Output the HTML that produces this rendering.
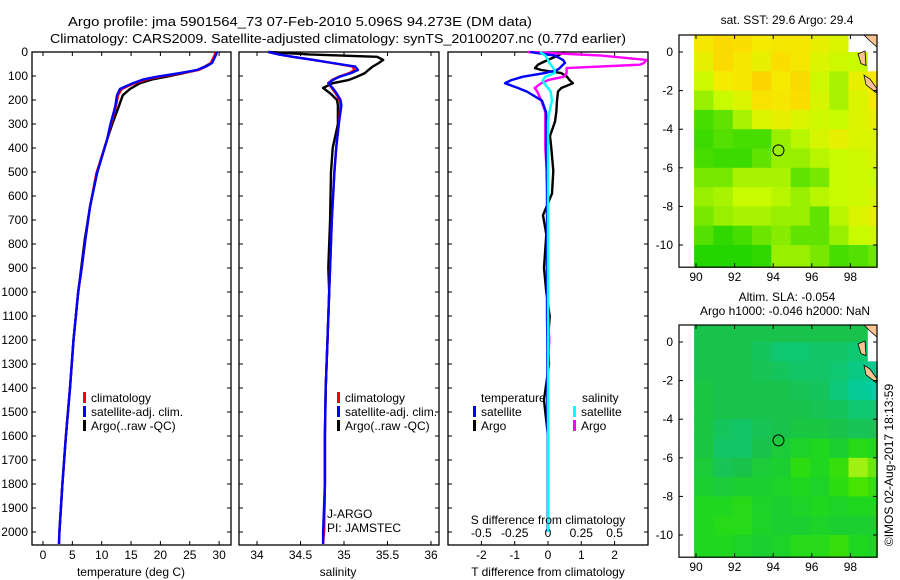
<!DOCTYPE html>
<html><head><meta charset="utf-8"><style>
html,body{margin:0;padding:0;background:#fff;}
svg{display:block;font-family:"Liberation Sans",sans-serif;}
text{fill:#000;font-size:12px;}
</style></head><body>
<svg id="fig" width="900" height="580" viewBox="0 0 900 580" xmlns="http://www.w3.org/2000/svg">
<text x="68" y="26" textLength="464" lengthAdjust="spacingAndGlyphs" style="font-size:13px">Argo profile: jma 5901564_73 07-Feb-2010 5.096S 94.273E (DM data)</text>
<text x="50" y="43" textLength="576" lengthAdjust="spacingAndGlyphs" style="font-size:13px">Climatology: CARS2009. Satellite-adjusted climatology: synTS_20100207.nc (0.77d earlier)</text>
<g id="p1"></g>
<g id="p2"></g>
<g id="p3"></g>
<g id="m1"></g>
<g id="m2"></g>
<text x="787" y="24" text-anchor="middle">sat. SST: 29.6 Argo: 29.4</text>
<text x="787" y="301" text-anchor="middle">Altim. SLA: -0.054</text>
<text x="785" y="315" text-anchor="middle">Argo h1000: -0.046 h2000: NaN</text>
<text transform="translate(893,465) rotate(-90)" text-anchor="middle">©IMOS 02-Aug-2017 18:13:59</text>
</svg>
<script>
// ---- data ----
const tDepth=[0,10,25,46,60,75,88,103,115,130,154,180,228,300,366,505,645,783,900,1000,1200,1400,1600,1800,2000,2050];
const tempClim=[29.3,29.3,29.0,28.6,27.8,26.5,23.7,19.9,17.5,15.6,13.4,12.8,12.4,11.6,10.9,9.1,8.0,7.2,6.6,6.0,5.2,4.6,3.9,3.3,2.8,2.7];
const tempSat=[29.6,29.5,29.2,28.8,27.8,26.2,23.3,19.4,17.0,15.3,13.1,12.6,12.3,11.5,10.9,9.2,8.0,7.2,6.6,6.0,5.2,4.6,3.9,3.3,2.8,2.75];
const tempArgo=[29.5,29.4,29.2,28.6,27.6,26.3,24.0,21.0,18.5,16.5,14.8,13.6,12.9,11.8,10.9,9.2,8.0,7.1,6.5,6.0,5.2,4.6,3.9,3.3,2.8];
const sDepth=[0,10,20,33,46,61,75,88,103,117,130,150,175,200,222,300,400,500,700,900,1000,1200,1400,1600,1800,2000,2050];
const salClim=[34.13,34.25,34.41,34.65,34.86,35.10,35.12,35.06,34.94,34.86,34.82,34.86,34.91,34.95,34.96,34.94,34.91,34.89,34.86,34.84,34.83,34.81,34.79,34.78,34.78,34.77,34.76];
const salSat=[34.13,34.25,34.41,34.65,34.87,35.13,35.16,35.08,34.95,34.87,34.82,34.87,34.92,34.96,34.97,34.94,34.91,34.89,34.86,34.84,34.83,34.81,34.79,34.78,34.78,34.76,34.76];
const salArgo=[34.13,34.6,35.38,35.45,35.40,35.33,35.28,35.24,35.15,35.05,34.87,34.76,34.85,34.92,34.93,34.93,34.87,34.85,34.84,34.82,34.83,34.81,34.79,34.78,34.78,34.77];
const dDepth=[0,15,33,46,53,67,75,88,103,117,130,150,165,203,250,290,350,400,495,590,680,760,900,1000,1100,1200,1300,1450,1500,1600,1800,2000];
const tSatDiff=[-0.54,0.2,0.45,0.51,0.45,0.35,0.27,-0.1,-0.75,-1.1,-1.29,-0.9,-0.63,-0.18,-0.06,-0.05,-0.05,-0.05,-0.04,-0.03,-0.03,-0.03,-0.03,-0.03,-0.03,-0.02,-0.02,-0.02,-0.02,-0.01,-0.01,-0.01];
const tArgoDiff=[0.5,0.3,0.0,-0.2,-0.3,-0.39,-0.2,0.4,0.57,0.65,0.75,0.4,0.3,0.27,0.25,0.21,0.06,0.1,0.16,0.12,-0.15,-0.05,-0.12,-0.05,0.05,0.0,0.03,-0.12,-0.08,0.0,0.0,0.0];
const sArgoDiff=[-0.15,0.4,0.74,0.72,0.69,0.14,0.14,0.14,0.12,0.0,-0.05,-0.1,-0.08,-0.05,-0.02,-0.02,-0.02,-0.02,-0.01,0,0,0,0,0,0,0.01,0,0,0,0,0,0];
const sSatDiff=[-0.06,-0.02,0,0.01,0.02,0.04,0.05,0.05,-0.02,-0.04,-0.03,0,0.02,0.03,0.01,0,0,0,0,0,0,0,0,0,0,0,0,0,0,0,0,0];
const depthTicks=[0,100,200,300,400,500,600,700,800,900,1000,1100,1200,1300,1400,1500,1600,1700,1800,1900,2000];
const tempTicks=[0,5,10,15,20,25,30];
const salTicks=[34,34.5,35,35.5,36];
const tDiffTicks=[-2,-1,0,1,2];
const sDiffTicks=[-0.5,-0.25,0,0.25,0.5];
const sstGrid=[
[2.3,2.6,2.5,2.2,2.3,2.3,2.0,1.8,-1,-1],
[2.0,2.6,2.3,2.0,2.5,2.3,1.8,1.6,1.5,-1],
[1.6,2.2,2.3,2.7,2.2,2.6,1.6,1.3,2.0,2.2],
[1.2,1.5,1.8,2.4,2.3,2.5,1.7,1.3,1.8,2.2],
[0.6,0.8,1.3,1.8,2.0,1.8,1.6,1.5,1.8,2.0],
[0.5,0.7,0.6,0.6,1.2,1.4,1.7,2.0,1.8,1.8],
[0.6,0.5,0.5,0.8,1.2,1.2,1.4,1.5,1.6,1.7],
[1.0,1.0,1.3,1.3,1.3,0.8,1.0,1.5,1.6,1.5],
[1.2,1.3,1.5,1.5,1.4,1.2,1.4,1.5,1.6,1.7],
[1.0,1.2,1.3,1.3,1.2,1.2,0.8,1.4,1.8,2.0],
[0.7,0.4,0.6,0.9,1.1,0.8,0.8,1.2,1.5,1.6],
[0.3,0.3,0.3,0.4,1.2,1.2,1.0,0.6,0.7,0.9]];
const slaGrid=[
[1,1,1,1,1,1,1,1,1,-1],
[1,1,1,0.8,0.6,0.6,0.7,0.7,0.6,-1],
[1,1,1,0.9,0.8,0.7,0.7,0.6,0.4,0.3],
[1.1,1,1,1,1,0.9,0.8,0.5,0.2,0.1],
[1.1,1,1,1,1,1,0.9,0.8,0.6,0.6],
[1.1,0.8,0.7,0.9,1,1.1,1.1,1,0.9,0.9],
[1.1,0.7,0.7,1,1.2,1.4,1.5,1.3,1.6,1.5],
[1.2,0.9,1,1.2,1.3,1.7,1.5,1.8,2.5,2.2],
[1.3,1.2,1.3,1.3,1.4,1.5,1.4,1.7,2.0,1.8],
[1.5,1.5,1.6,1.4,1.3,1.4,1.5,1.4,1.5,1.5],
[1.5,1.6,1.6,1.4,1.3,1.3,1.4,1.3,1.3,1.3],
[1.5,1.5,1.4,1.3,1.4,1.6,1.6,1.8,1.5,1.4]];
const lonTicks=[90,92,94,96,98];
const latTicks=[0,-2,-4,-6,-8,-10];
const argoLon=[94.273], argoLat=[-5.096];

// ---- helpers ----
const NS="http://www.w3.org/2000/svg";
function mk(parent,tag,attrs){const e=document.createElementNS(NS,tag);for(const k in attrs)e.setAttribute(k,attrs[k]);parent.appendChild(e);return e;}
const TOP=52,BOT=545;
const yD=d=>TOP+d*0.24;
function frame(g,x0,x1,y0,y1){const r=mk(g,'rect',{x:x0,y:y0,width:x1-x0,height:y1-y0,fill:'none',stroke:'#000','stroke-width':1.3});}
function depthAxis(g,x0,x1,labels){
  depthTicks.forEach(d=>{const y=yD(d);
    mk(g,'line',{x1:x0,y1:y,x2:x0+4,y2:y,stroke:'#000'});
    mk(g,'line',{x1:x1,y1:y,x2:x1-4,y2:y,stroke:'#000'});
    if(labels){const t=mk(g,'text',{x:x0-4,y:y+4,'text-anchor':'end'});t.textContent=d;
      }
  });
}
function xAxis(g,ticks,fx,ylab,fmt){
  ticks.forEach(v=>{const x=fx(v);
    mk(g,'line',{x1:x,y1:BOT,x2:x,y2:BOT-4,stroke:'#000'});
    mk(g,'line',{x1:x,y1:TOP,x2:x,y2:TOP+4,stroke:'#000'});
    const t=mk(g,'text',{x:x,y:ylab,'text-anchor':'middle'});t.textContent=fmt?fmt(v):v;
    });
}
function line(g,xs,ds,fx,color,name,w){
  const pts=xs.map((v,i)=>fx(v).toFixed(1)+','+yD(ds[i]).toFixed(1)).join(' ');
  const p=mk(g,'polyline',{points:pts,fill:'none',stroke:color,'stroke-width':w||2.4,'stroke-linejoin':'round'});
  
  
}
function legend(g,x,y,color,label){
  mk(g,'rect',{x:x,y:y-10,width:3,height:11,fill:color});
  const t=mk(g,'text',{x:x+8,y:y});t.textContent=label;
  
  
}
function lbl(g,x,y,s,anchor,name){const t=mk(g,'text',{x:x,y:y,'text-anchor':anchor||'start'});t.textContent=s;
  return t;}

// ---- panel 1: temperature ----
{const g=document.getElementById('p1');const x0=32,x1=231;const fx=v=>43+v*5.87;
 frame(g,x0,x1,TOP,BOT);depthAxis(g,x0,x1,true);xAxis(g,tempTicks,fx,559);
 line(g,tempArgo,tDepth,fx,'#000','temp-argo-line');
 line(g,tempClim,tDepth,fx,'#f00','temp-climatology-line');
 line(g,tempSat,tDepth,fx,'#00f','temp-satellite-line');
 legend(g,83,402,'#f00','climatology');legend(g,83,416,'#00f','satellite-adj. clim.');legend(g,83,430,'#000','Argo(..raw -QC)');
 lbl(g,131,576,'temperature (deg C)','middle','x-axis-title-temperature');}
// ---- panel 2: salinity ----
{const g=document.getElementById('p2');const x0=239,x1=439;const fx=v=>257+(v-34)*87;
 frame(g,x0,x1,TOP,BOT);depthAxis(g,x0,x1,false);xAxis(g,salTicks,fx,559);
 line(g,salArgo,sDepth,fx,'#000','salinity-argo-line');
 line(g,salClim,sDepth,fx,'#f00','salinity-climatology-line');
 line(g,salSat,sDepth,fx,'#00f','salinity-satellite-line');
 legend(g,337,402,'#f00','climatology');legend(g,337,416,'#00f','satellite-adj. clim.');legend(g,337,430,'#000','Argo(..raw -QC)');
 lbl(g,327,518,'J-ARGO','start','float-program-label');lbl(g,327,532,'PI: JAMSTEC','start','pi-label');
 lbl(g,338,576,'salinity','middle','x-axis-title-salinity');}
// ---- panel 3: differences ----
{const g=document.getElementById('p3');const x0=448,x1=648;const fT=v=>548+v*33.3;const fS=v=>548+v*133.2;
 frame(g,x0,x1,TOP,BOT);depthAxis(g,x0,x1,false);xAxis(g,tDiffTicks,fT,559);
 sDiffTicks.forEach(v=>{const t=lbl(g,fS(v),537,String(v),'middle','s-diff-tick-label');});
 line(g,tArgoDiff,dDepth,fT,'#000','t-diff-argo-line');
 line(g,sArgoDiff,dDepth,fS,'#f0f','s-diff-argo-line');
 line(g,tSatDiff,dDepth,fT,'#00f','t-diff-satellite-line');
 line(g,sSatDiff,dDepth,fS,'#0ff','s-diff-satellite-line');
 lbl(g,481,402,'temperature','start','legend-temperature-header');lbl(g,582,402,'salinity','start','legend-salinity-header');
 legend(g,473,416,'#00f','satellite');legend(g,473,430,'#000','Argo');
 legend(g,573,416,'#0ff','satellite');legend(g,573,430,'#f0f','Argo');
 lbl(g,548,524,'S difference from climatology','middle','s-diff-axis-title');
 lbl(g,548,576,'T difference from climatology','middle','t-diff-axis-title');}

// ---- maps ----
function interp(stops,v){for(let i=0;i<stops.length-1;i++){const a=stops[i],b=stops[i+1];if(v<=b[0]||i==stops.length-2){const f=Math.max(0,Math.min(1,(v-a[0])/(b[0]-a[0])));return 'rgb('+[1,2,3].map(k=>Math.round(a[k]+(b[k]-a[k])*f)).join(',')+')';}}}
const sstStops=[[0,0,205,0],[1,120,232,0],[1.5,200,250,0],[2.2,245,235,0],[3,255,200,0]];
const slaStops=[[0,0,205,170],[1,25,195,75],[1.5,30,215,30],[2,70,228,0],[2.5,160,240,20]];
function map(id,grid,stops,y0,lat0y,gridName){
  const g=document.getElementById(id);const x0=679,x1=877;
  const fx=lon=>696+(lon-90)*19.3, fy=lat=>lat0y-lat*19.3; const y1=fy(-11.15);
  mk(g,'rect',{x:x0,y:y0,width:x1-x0,height:y1-y0,fill:'#fff'});
  grid.forEach((row,r)=>row.forEach((v,c)=>{
    const la=r==0?0.9:1-r, lb=r==11?-11.15:-r;
    const lo=89.9+c, lo2=Math.min(99.4,lo+1);
    const rc=mk(g,'rect',{x:fx(lo).toFixed(1),y:Math.max(y0,fy(la)).toFixed(1),width:(fx(lo2)-fx(lo)+0.5).toFixed(1),height:(fy(lb)-Math.max(y0,fy(la))+0.5).toFixed(1),fill:v<0?'#fff':interp(stops,v)});
    
    
  }));
  [[[864,y0],[877,y0],[877,y0+12],[870,y0+6]],[[858,fy(-0.1)],[865,fy(0.05)],[866,fy(-0.7)],[861,fy(-0.6)]],[[864,fy(-1.2)],[870,fy(-1.4)],[877,fy(-1.9)],[876,fy(-2.1)],[866,fy(-1.7)]]].forEach(p=>{
    const l=mk(g,'polygon',{points:p.map(q=>q.join(',')).join(' '),fill:'#fbc38f',stroke:'#000','stroke-width':0.8});
    });
  const c=mk(g,'circle',{cx:fx(argoLon[0]),cy:fy(argoLat[0]),r:5.5,fill:'none',stroke:'#000','stroke-width':1});
  
  mk(g,'rect',{x:x0,y:y0,width:x1-x0,height:y1-y0,fill:'none',stroke:'#000','stroke-width':1.2});
  lonTicks.forEach(v=>{const x=fx(v);mk(g,'line',{x1:x,y1:y1,x2:x,y2:y1-4,stroke:'#000'});mk(g,'line',{x1:x,y1:y0,x2:x,y2:y0+4,stroke:'#000'});
    lbl(g,x,y1+14,String(v),'middle','lon-tick-label');});
  latTicks.forEach(v=>{const y=fy(v);mk(g,'line',{x1:x0,y1:y,x2:x0+4,y2:y,stroke:'#000'});mk(g,'line',{x1:x1,y1:y,x2:x1-4,y2:y,stroke:'#000'});
    lbl(g,x0-6,y+4,String(v),'end','lat-tick-label');});
}
map('m1',sstGrid,sstStops,35,52,'sst-cell');
map('m2',slaGrid,slaStops,325,342,'sla-cell');
</script>
</body></html>
